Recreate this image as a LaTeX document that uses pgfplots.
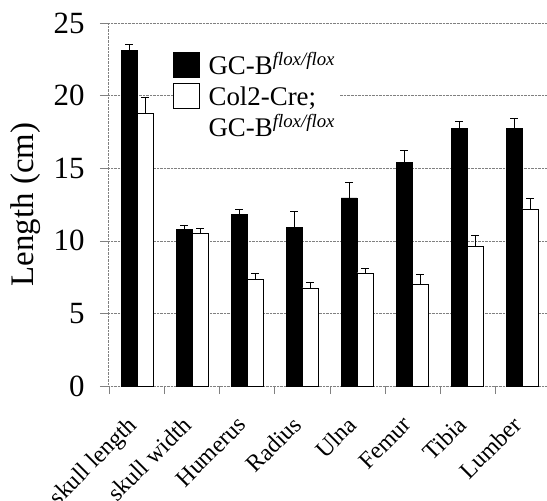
\documentclass[border=0pt]{standalone}
\usepackage{pgfplots}
\pgfplotsset{compat=1.18}
\usepackage{fontspec}
\setmainfont{Liberation Serif}
\begin{document}
\begin{tikzpicture}
\begin{axis}[
  scale only axis, width=439bp, height=363bp,
  xmin=-0.53, xmax=7.45, ymin=0, ymax=25,
  ybar=0pt, bar width=16bp,
  axis x line*=bottom, axis y line*=left,
  axis line style={draw=gray, densely dotted, -},
  ytick={0,5,...,25},
  ymajorgrids, grid style={gray, densely dotted},
  tick align=outside, major tick length=8bp, minor tick length=6bp,
  tick style={gray, thin},
  xtick={-0.5,0.5,...,6.5}, xticklabels={},
  extra x ticks={0,...,7},
  extra x tick labels={skull length, skull width, Humerus, Radius, Ulna, Femur, Tibia, Lumber},
  extra x tick style={major tick length=0pt, xticklabel style={xshift=-11bp, yshift=-24bp, rotate=45, anchor=north east, font=\fontsize{24}{24}\selectfont}},
  yticklabel style={font=\fontsize{31}{31}\selectfont, xshift=-12bp},
  /pgf/number format/assume math mode=true,
  ylabel={Length (cm)},
  ylabel style={at={(axis description cs:-0.188,0.5)}, anchor=center, font=\fontsize{33}{33}\selectfont},
  legend style={at={(0.148,0.92)}, anchor=north west, draw=none, fill=white, inner sep=0pt,
    font=\fontsize{27}{27}\selectfont, cells={anchor=base west}, row sep=0pt, column sep=4bp,
    nodes={inner ysep=3bp, inner xsep=5bp, text height=19bp, text depth=6bp}},
  legend image code/.code={\draw[#1] (0bp,-3bp) rectangle (26bp,22bp);},
  error bars/y dir=plus, error bars/y explicit,
  error bars/error bar style={black, semithick},
  error bars/error mark options={black, semithick, mark size=4bp, rotate=90},
]
\addplot[fill=black, draw=black] coordinates {
  (0,23.1) +- (0,0.45)
  (1,10.8) +- (0,0.3)
  (2,11.8) +- (0,0.4)
  (3,10.95) +- (0,1.05)
  (4,12.95) +- (0,1.05)
  (5,15.4) +- (0,0.8)
  (6,17.75) +- (0,0.45)
  (7,17.75) +- (0,0.7)
};
\addplot[fill=white, draw=black] coordinates {
  (0,18.8) +- (0,1.1)
  (1,10.5) +- (0,0.35)
  (2,7.35) +- (0,0.4)
  (3,6.75) +- (0,0.4)
  (4,7.8) +- (0,0.3)
  (5,7.0) +- (0,0.7)
  (6,9.6) +- (0,0.8)
  (7,12.2) +- (0,0.7)
};
\addlegendimage{empty legend}
\legend{GC-B\textsuperscript{\textit{flox/flox}}, Col2-Cre;, GC-B\textsuperscript{\textit{flox/flox}}\hspace{10bp}}
\coordinate (bl) at (rel axis cs:0,0);
\coordinate (tr) at (rel axis cs:1,1);
\end{axis}
\pgfresetboundingbox
\path[use as bounding box] ([shift={(-108bp,-115bp)}]bl) rectangle ([shift={(0bp,23bp)}]tr);
\end{tikzpicture}
\end{document}
